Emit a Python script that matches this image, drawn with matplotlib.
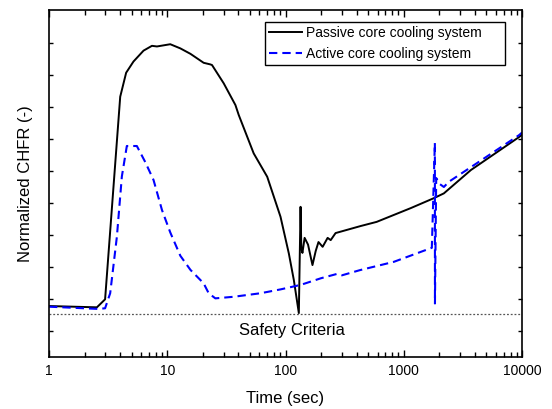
import numpy as np
import matplotlib.pyplot as plt
from matplotlib.ticker import LogLocator, NullFormatter, FixedLocator

plt.rcParams['font.family'] = ['Liberation Sans', 'DejaVu Sans']

# Passive core cooling system (time in sec, normalized CHFR in arbitrary units)
passive_t = [1, 2.54, 2.98, 4.0, 4.49, 5.18, 6.3, 7.42, 8.18, 10.6, 12.9, 15.7,
             20.3, 23.1, 23.9, 30.0, 37.7, 40.2, 53.8, 70.0, 90.7, 106.7, 117.6,
             129.6, 134, 136, 139, 145, 155, 169, 180, 190, 206, 227, 241, 265,
             432, 590, 1146, 1795, 2183, 3697, 9440, 10000]
passive_y = [0.78, 0.74, 0.99, 7.32, 8.07, 8.42, 8.76, 8.91, 8.89, 8.96, 8.83, 8.66,
             8.38, 8.33, 8.31, 7.74, 7.06, 6.75, 5.55, 4.82, 3.57, 2.42, 1.59,
             0.56, 3.88, 2.6, 2.44, 2.91, 2.7, 2.06, 2.5, 2.78, 2.63, 2.91, 2.84, 3.06,
             3.28, 3.41, 3.84, 4.15, 4.3, 5.03, 6.06, 6.13]

# Active core cooling system
active_t = [1, 2.6, 2.98, 3.29, 3.75, 4.13, 4.55, 5.53, 6.51, 7.65, 9.02, 10.6,
            12.9, 15.7, 20.3, 22.4, 25.5, 36.5, 61.4, 90.7, 134, 200, 270, 300,
            424, 822, 1727, 1832, 1835, 1880, 2000, 2183, 2400, 3697, 9440, 10000]
active_y = [0.76, 0.69, 0.71, 1.18, 2.95, 4.83, 5.78, 5.78, 5.28, 4.72, 3.78, 3.08,
            2.35, 1.91, 1.49, 1.18, 1.02, 1.07, 1.18, 1.3, 1.44, 1.65, 1.78, 1.74,
            1.9, 2.16, 2.6, 5.88, 0.86, 4.78, 4.6, 4.5, 4.66, 5.12, 6.12, 6.2]

safety_limit = 0.54

fig = plt.figure(figsize=(5.52, 4.09), dpi=100)
ax = fig.add_axes([0.0888, 0.1271, 0.8569, 0.8485])

ax.plot(passive_t, passive_y, color='black', lw=1.4,
        label='Passive core cooling system     ')
ax.plot(active_t, active_y, color='#0000ff', lw=1.5, linestyle=(0, (4, 2.4)),
        label='Active core cooling system')
ax.axhline(safety_limit, color='#555555', lw=0.9, linestyle=(0, (1.5, 1.5)))
ax.text(114, 0.03, 'Safety Criteria', ha='center', va='center', fontsize=12)

ax.set_xscale('log')
ax.set_xlim(1, 10000)
ax.set_ylim(-0.8125, 10.03)
ax.xaxis.set_minor_locator(LogLocator(base=10, subs=np.arange(2, 10)))
ax.xaxis.set_minor_formatter(NullFormatter())
ax.set_xticks([1, 10, 100, 1000, 10000])
ax.set_xticklabels(['1', '10', '100', '1000', '10000'])
ax.yaxis.set_major_locator(FixedLocator(range(0, 10)))
ax.set_yticklabels([])

ax.tick_params(which='both', direction='in', top=True, right=True, width=1)
ax.tick_params(axis='x', which='major', length=5, labelsize=10, pad=5)
ax.tick_params(axis='x', which='minor', length=3.5)
ax.tick_params(axis='y', which='major', length=3)
for s in ax.spines.values():
    s.set_linewidth(1.2)

ax.set_xlabel('Time (sec)', fontsize=12)
ax.set_ylabel('Normalized CHFR (-)', fontsize=12)
ax.xaxis.set_label_coords(0.499, -0.097)
ax.yaxis.set_label_coords(-0.034, 0.5)

leg = ax.legend(loc='upper right', bbox_to_anchor=(0.964, 0.965), borderaxespad=0,
                fontsize=10, handlelength=2.4, handletextpad=0.25, labelspacing=0.45,
                borderpad=0.3, fancybox=False, framealpha=1, edgecolor='black')
leg.get_frame().set_linewidth(1.0)

fig.savefig('out.png', dpi=100)
